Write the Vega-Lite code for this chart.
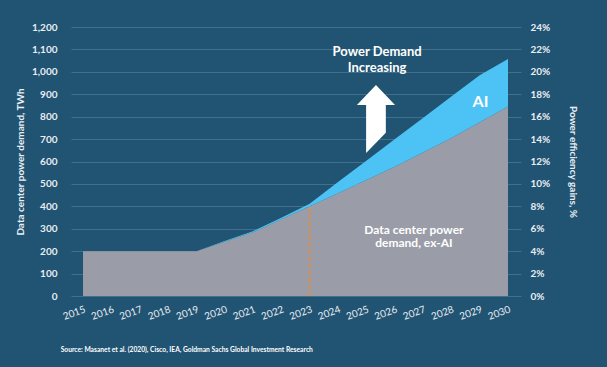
{
  "$schema": "https://vega.github.io/schema/vega-lite/v6.json",
  "width": 450,
  "height": 269,
  "autosize": "none",
  "padding": {"left": 71, "top": 27, "right": 86, "bottom": 71},
  "background": "#215372",
  "config": {
    "view": {"stroke": null},
    "font": "Lato",
    "axis": {"labelColor": "#e9eef2", "titleColor": "#e9eef2", "labelFont": "Lato", "titleFont": "Lato", "labelFontWeight": "bold", "titleFontWeight": "bold"}
  },
  "datasets": {
    "demand": [
      {"year": 2015, "segment": "ex-AI", "twh": 200}, {"year": 2015, "segment": "AI", "twh": 0},
      {"year": 2016, "segment": "ex-AI", "twh": 200}, {"year": 2016, "segment": "AI", "twh": 0},
      {"year": 2017, "segment": "ex-AI", "twh": 200}, {"year": 2017, "segment": "AI", "twh": 0},
      {"year": 2018, "segment": "ex-AI", "twh": 200}, {"year": 2018, "segment": "AI", "twh": 0},
      {"year": 2019, "segment": "ex-AI", "twh": 200}, {"year": 2019, "segment": "AI", "twh": 0},
      {"year": 2020, "segment": "ex-AI", "twh": 242}, {"year": 2020, "segment": "AI", "twh": 3},
      {"year": 2021, "segment": "ex-AI", "twh": 284}, {"year": 2021, "segment": "AI", "twh": 5},
      {"year": 2022, "segment": "ex-AI", "twh": 342}, {"year": 2022, "segment": "AI", "twh": 7},
      {"year": 2023, "segment": "ex-AI", "twh": 400}, {"year": 2023, "segment": "AI", "twh": 12},
      {"year": 2024, "segment": "ex-AI", "twh": 458}, {"year": 2024, "segment": "AI", "twh": 50},
      {"year": 2025, "segment": "ex-AI", "twh": 518}, {"year": 2025, "segment": "AI", "twh": 85},
      {"year": 2026, "segment": "ex-AI", "twh": 577}, {"year": 2026, "segment": "AI", "twh": 122},
      {"year": 2027, "segment": "ex-AI", "twh": 640}, {"year": 2027, "segment": "AI", "twh": 154},
      {"year": 2028, "segment": "ex-AI", "twh": 705}, {"year": 2028, "segment": "AI", "twh": 185},
      {"year": 2029, "segment": "ex-AI", "twh": 775}, {"year": 2029, "segment": "AI", "twh": 210},
      {"year": 2030, "segment": "ex-AI", "twh": 845}, {"year": 2030, "segment": "AI", "twh": 212}
    ],
    "marker": [{"year": 2023, "from": 0, "to": 400}],
    "headline": [{"year": 2025.38, "twh": 1088, "label": ["Power Demand", "Increasing"]}],
    "ailabel": [{"year": 2029.03, "twh": 865, "label": "AI"}],
    "exailabel": [{"year": 2026.68, "twh": 295, "label": ["Data center power", "demand, ex-AI"]}],
    "arrow": [{"year": 2025.34, "twh": 790}],
    "source": [{"year": 2014.21, "twh": -241, "label": "Source: Masanet et al. (2020), Cisco, IEA, Goldman Sachs Global Investment Research"}],
    "pct": [{"pct": 0}, {"pct": 0.24}]
  },
  "layer": [
    {
      "encoding": {
        "x": {"field": "year", "type": "quantitative",
          "scale": {"domain": [2014.576, 2030.459], "nice": false, "zero": false},
          "axis": {"values": [2015, 2016, 2017, 2018, 2019, 2020, 2021, 2022, 2023, 2024, 2025, 2026, 2027, 2028, 2029, 2030],
            "format": "d", "labelAngle": -20, "labelAlign": "right", "labelBaseline": "top", "labelPadding": 8,
            "labelFontSize": 10, "labelFontWeight": "normal", "ticks": false, "domain": false, "grid": false, "title": null, "labelOverlap": false}},
        "y": {"field": "twh", "type": "quantitative",
          "scale": {"domain": [0, 1200], "nice": false},
          "axis": {"orient": "left", "values": [0, 100, 200, 300, 400, 500, 600, 700, 800, 900, 1000, 1100, 1200],
            "format": ",.0f", "grid": true, "gridColor": "#41708c", "gridWidth": 1, "domain": false, "ticks": false,
            "labelPadding": 14, "labelFontSize": 10, "title": "Data center power demand, TWh", "titleFontSize": 10, "titlePadding": 6}}
      },
      "layer": [
        {
          "data": {"name": "demand"},
          "mark": {"type": "area", "interpolate": "linear"},
          "encoding": {
            "y": {"field": "twh", "type": "quantitative", "stack": "zero"},
            "color": {"field": "segment", "type": "nominal", "scale": {"domain": ["ex-AI", "AI"], "range": ["#9a9da8", "#4dc3f5"]}, "legend": null},
            "order": {"field": "segment", "sort": "descending"}
          }
        },
        {
          "data": {"name": "marker"},
          "mark": {"type": "rule", "color": "#f08a35", "strokeDash": [4, 3], "strokeWidth": 1.6},
          "encoding": {
            "y": {"field": "from", "type": "quantitative"},
            "y2": {"field": "to"}
          }
        },
        {
          "data": {"name": "arrow"},
          "mark": {"type": "point", "shape": "M0,-1 L0.56,-0.41 L0.29,-0.41 L0.29,0.41 L-0.29,1 L-0.29,-0.41 L-0.56,-0.41 Z", "filled": true, "color": "#ffffff", "opacity": 1, "size": 4624, "strokeWidth": 0}
        },
        {
          "data": {"name": "headline"},
          "mark": {"type": "text", "color": "#ffffff", "fontWeight": "bold", "fontSize": 13, "lineHeight": 16, "align": "center", "baseline": "middle"},
          "encoding": {"text": {"field": "label"}}
        },
        {
          "data": {"name": "ailabel"},
          "mark": {"type": "text", "color": "#ffffff", "fontWeight": "bold", "fontSize": 16, "align": "center", "baseline": "middle"},
          "encoding": {"text": {"field": "label"}}
        },
        {
          "data": {"name": "exailabel"},
          "mark": {"type": "text", "color": "#ffffff", "fontWeight": "bold", "fontSize": 12, "lineHeight": 13.5, "align": "center", "baseline": "middle"},
          "encoding": {"text": {"field": "label"}}
        },
        {
          "data": {"name": "source"},
          "mark": {"type": "text", "color": "#ffffff", "fontWeight": "bold", "fontSize": 6.7, "align": "left", "baseline": "middle"},
          "encoding": {"text": {"field": "label"}}
        }
      ]
    },
    {
      "data": {"name": "pct"},
      "mark": {"type": "point", "opacity": 0},
      "encoding": {
        "y": {"field": "pct", "type": "quantitative", "scale": {"domain": [0, 0.24], "nice": false},
          "axis": {"orient": "right", "values": [0, 0.02, 0.04, 0.06, 0.08, 0.1, 0.12, 0.14, 0.16, 0.18, 0.2, 0.22, 0.24],
            "format": ".0%", "grid": false, "domain": false, "ticks": false, "labelPadding": 9, "labelFontSize": 10,
            "title": "Power efficiency gains, %", "titleFontSize": 10, "titlePadding": 18}}
      }
    }
  ],
  "resolve": {"scale": {"y": "independent"}}
}
